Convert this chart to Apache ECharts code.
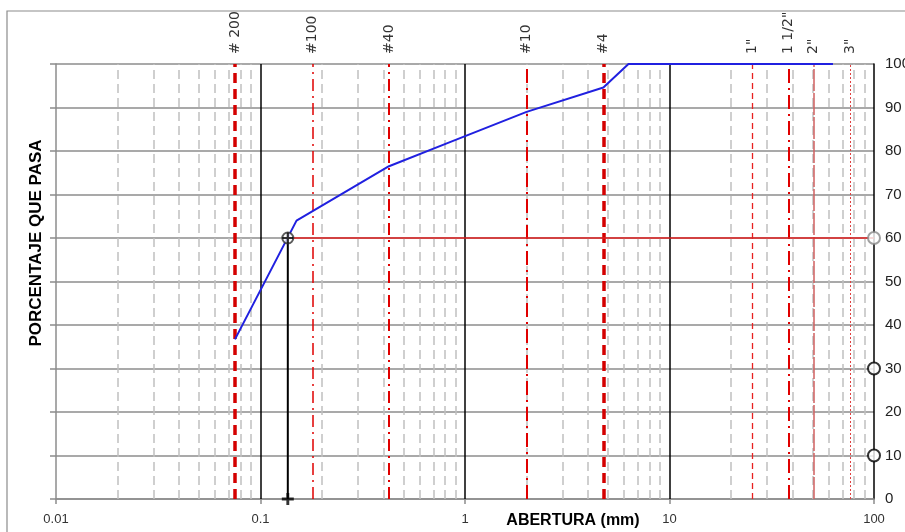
<!DOCTYPE html>
<html>
<head>
<meta charset="utf-8">
<script src="https://cdn.jsdelivr.net/npm/echarts@6/dist/echarts.min.js"></script>
<style>html,body{margin:0;padding:0;background:#fff}#c{width:905px;height:532px}</style>
</head>
<body>
<div id="c"></div>
<script>
// ---- data ----
const curveX = [0.075, 0.15, 0.425, 0.85, 2.0, 4.75, 6.3, 63];
const curveY = [36.7, 64.0, 76.5, 82.1, 89.0, 94.6, 100, 100];
const d60 = 0.136;
const d60Pct = 60;
const rightMarks = [60, 30, 10];
const sieveLabels = ['# 200', '#100', '#40', '#10', '#4', '1"', '1 1/2"', '2"', '3"'];
const sieveSizes = [0.075, 0.18, 0.425, 2.0, 4.75, 25.4, 38.1, 50.8, 76.2];
const decadeLines = [0.1, 1, 10];
const minorLines = [0.02,0.03,0.04,0.05,0.06,0.07,0.08,0.09,
                    0.2,0.3,0.4,0.5,0.6,0.7,0.8,0.9,
                    2,3,4,5,6,7,8,9,
                    20,30,40,50,60,70,80,90];

// ---- styles ----
const sieveStyles = [
  {color:'#d40000', width:3.5, type:[10,6]},
  {color:'#e00000', width:1.5, type:[12,5,2,5]},
  {color:'#e00000', width:2, type:[12,5,2,5]},
  {color:'#e00000', width:2, type:[14,5,2,5]},
  {color:'#d40000', width:3.5, type:[10,6]},
  {color:'#e82020', width:1.3, type:[6,4]},
  {color:'#e00000', width:2, type:[14,5,2,5]},
  {color:'#d06060', width:1.5, type:[22,2]},
  {color:'#e04040', width:1, type:[2,2]}
];

const chart = echarts.init(document.getElementById('c'), null, {renderer:'canvas'});
const option = {
  animation: false,
  backgroundColor: '#fff',
  textStyle: {fontFamily: 'Liberation Sans'},
  grid: {left: 56, right: 31, top: 64, bottom: 33, containLabel: false, outerBoundsMode: 'none'},
  xAxis: {
    type: 'log', logBase: 10, min: 0.01, max: 100,
    axisLine: {lineStyle: {color: '#8c8c8c', width: 1.5}},
    axisTick: {show: true, length: 5, lineStyle: {color: '#8c8c8c', width: 1.5}},
    axisLabel: {fontSize: 13, color: '#333', margin: 14, fontFamily: 'Liberation Sans Narrow, Liberation Sans',
      formatter: v => String(+v.toPrecision(3))},
    splitLine: {show: false}
  },
  yAxis: [
    {type: 'value', min: 0, max: 100, interval: 10, position: 'left',
     axisLine: {show: true, lineStyle: {color: '#8c8c8c', width: 1.5}},
     axisTick: {show: true, length: 6, lineStyle: {color: '#8c8c8c', width: 1.5}},
     axisLabel: {show: false},
     splitLine: {show: true, lineStyle: {color: '#8c8c8c', width: 1.5}}},
    {type: 'value', min: 0, max: 100, interval: 10, position: 'right',
     axisLine: {show: true, lineStyle: {color: '#000', width: 1.5}},
     axisTick: {show: false},
     axisLabel: {show: true, fontSize: 15, color: '#222', margin: 11},
     splitLine: {show: false}}
  ],
  graphic: [
    {type: 'rect', shape: {x: 7, y: 11, width: 1000, height: 1000}, style: {fill: 'none', stroke: '#8c8c8c', lineWidth: 1.2}, z: -10},
    {type: 'text', x: 573, y: 521, style: {text: 'ABERTURA (mm)', font: 'bold 16px Liberation Sans Narrow, Liberation Sans', fill: '#000', textAlign: 'center', textVerticalAlign: 'middle'}},
    {type: 'text', x: 36, y: 243, rotation: Math.PI/2, style: {text: 'PORCENTAJE QUE PASA', font: 'bold 17px Liberation Sans', fill: '#000', textAlign: 'center', textVerticalAlign: 'middle'}}
  ],
  series: [
    {type: 'line', data: [], silent: true, z: 1,
     markLine: {silent: true, symbol: 'none', precision: 6, label: {show: false}, animation: false,
       data: minorLines.map(v => ({xAxis: v, lineStyle: {color: '#c0c0c0', width: 1.5, type: [9,5]}}))}},
    {type: 'line', data: [], silent: true, z: 2,
     markLine: {silent: true, symbol: 'none', precision: 6, label: {show: false}, animation: false,
       data: decadeLines.map(v => ({xAxis: v, lineStyle: {color: '#000', width: 1.5, type: 'solid'}}))}},
    {type: 'line', data: [], silent: true, z: 3,
     markLine: {silent: true, symbol: 'none', precision: 6, label: {show: false}, animation: false,
       data: sieveSizes.map((v, i) => ({xAxis: v, lineStyle: sieveStyles[i]}))}},
    {type: 'scatter', z: 4, symbolSize: 0, silent: true, clip: false,
     data: sieveSizes.map((v, i) => ({value: [v, 100], name: sieveLabels[i]})),
     label: {show: true, position: 'top', distance: 10, rotate: 90, align: 'left', verticalAlign: 'middle',
       formatter: p => p.name, fontSize: 14, color: '#000', fontFamily: 'DejaVu Sans'}},
    {type: 'line', z: 5, symbol: 'none', silent: true,
     data: [[d60, d60Pct], [100, d60Pct]], lineStyle: {color: '#e02020', width: 1.5}},
    {type: 'line', z: 5, symbol: 'none', silent: true,
     data: [[d60, d60Pct], [d60, 0]], lineStyle: {color: '#000', width: 2}},
    {type: 'line', z: 6, symbol: 'none', silent: true,
     data: curveX.map((x, i) => [x, curveY[i]]), lineStyle: {color: '#2020e0', width: 2}},
    {type: 'scatter', z: 7, silent: true, clip: false, symbol: 'emptyCircle', symbolSize: 11,
     data: [[d60, d60Pct]], itemStyle: {color: '#333', borderColor: '#333', borderWidth: 1.5}},
    {type: 'scatter', z: 8, silent: true, clip: false, symbol: 'path://M4,0h2v4h4v2h-4v4h-2v-4h-4v-2h4z', symbolSize: 11,
     data: [[d60, d60Pct]], itemStyle: {color: '#000'}},
    {type: 'scatter', z: 8, silent: true, clip: false, symbol: 'path://M3.8,0h2.4v3.8h3.8v2.4h-3.8v3.8h-2.4v-3.8h-3.8v-2.4h3.8z', symbolSize: 12,
     data: [[d60, 0]], itemStyle: {color: '#000'}},
    {type: 'scatter', z: 8, silent: true, clip: false, symbol: 'emptyCircle', symbolSize: 12,
     data: rightMarks.map(y => ({value: [100, y], itemStyle: {color: y === 60 ? '#888' : '#000', borderColor: y === 60 ? '#888' : '#000'}})),
     itemStyle: {color: '#000', borderColor: '#000', borderWidth: 1.5}}
  ]
};
chart.setOption(option);
</script>
</body>
</html>
